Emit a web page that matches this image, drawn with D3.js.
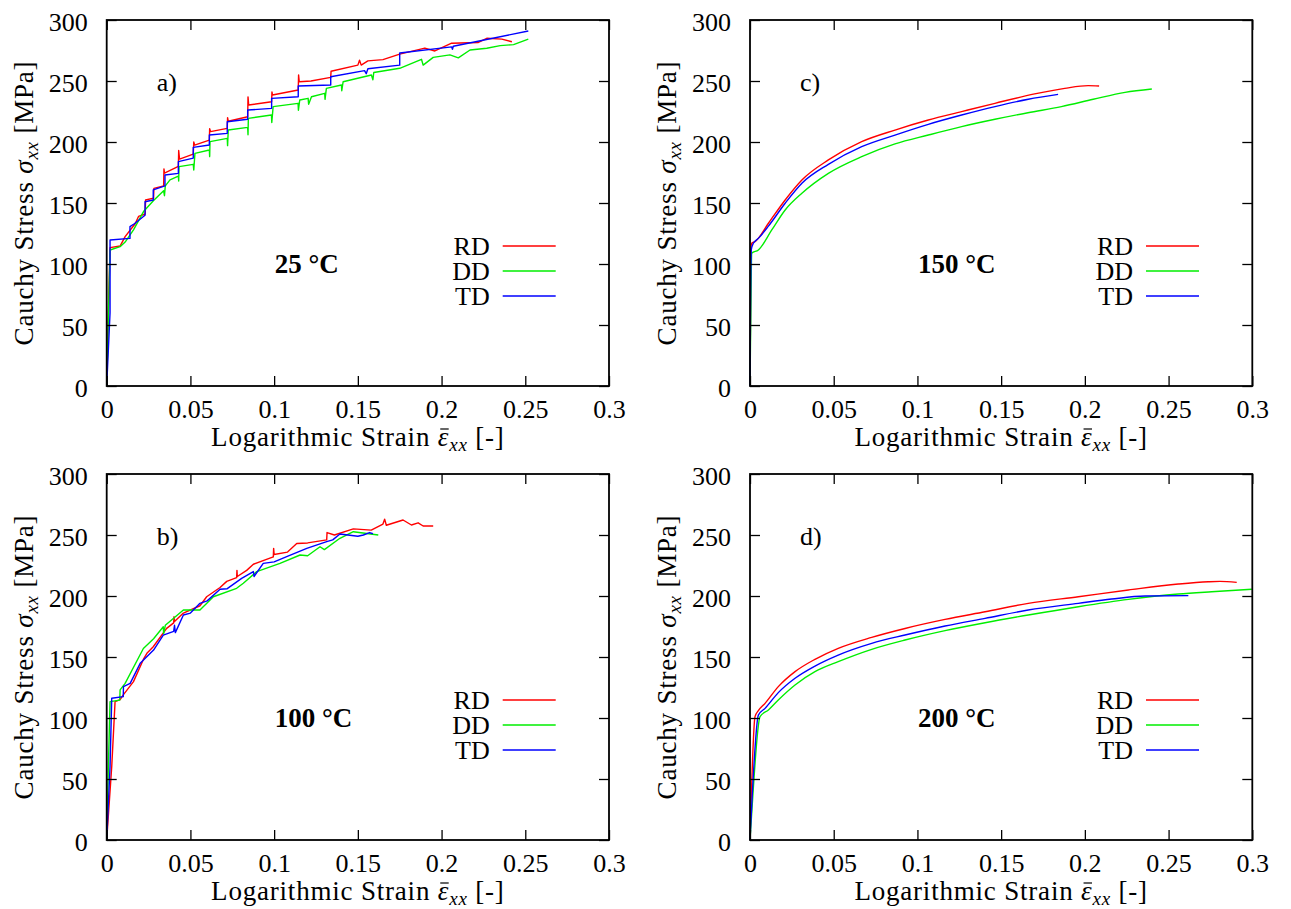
<!DOCTYPE html>
<html><head><meta charset="utf-8">
<script src="https://cdn.jsdelivr.net/npm/d3@7"></script>
<style>body{margin:0;background:#fff} svg text{font-family:"Liberation Serif",serif !important;fill:#000}</style>
</head><body><svg id="chart" width="1291" height="909" font-family="Liberation Serif, serif"></svg>
<script>
// ---------- data ----------
const xTicks = [0, 0.05, 0.1, 0.15, 0.2, 0.25, 0.3];
const yTicks = [0, 50, 100, 150, 200, 250, 300];
const xTickLabels = ["0", "0.05", "0.1", "0.15", "0.2", "0.25", "0.3"];
const yTickLabels = ["0", "50", "100", "150", "200", "250", "300"];
const seriesNames = ["RD", "DD", "TD"];
const panelLetters = ["a)", "b)", "c)", "d)"];
const panelTemps = ["25 °C", "100 °C", "150 °C", "200 °C"];

// 25 °C  [strain, stress MPa]
const rd25 = [[0,0],[0.001,60],[0.002,113.4],[0.008,114.7],[0.011,122.4],[0.017,133],[0.019,139],[0.023,141],[0.0232,152.5],[0.028,154],[0.0282,162],[0.034,164],[0.0342,178],[0.0345,174.5],[0.0428,180],[0.043,193],[0.0435,186],[0.0517,190],[0.052,200],[0.0525,197.5],[0.0613,201.6],[0.0615,211],[0.062,208.5],[0.072,211.2],[0.0722,220],[0.0726,217],[0.0842,220.7],[0.0844,237],[0.0848,230.3],[0.0985,233],[0.0987,241],[0.099,238.5],[0.1144,242.6],[0.1146,255],[0.115,249.4],[0.122,250],[0.1338,253],[0.134,258],[0.15,263],[0.151,267],[0.152,263],[0.156,266.5],[0.165,267.5],[0.175,272],[0.19,277],[0.196,274.6],[0.206,281],[0.222,281.6],[0.227,285],[0.236,284.3],[0.242,282.2]];
const dd25 = [[0,0],[0.001,55],[0.002,111.5],[0.008,114.2],[0.011,118],[0.016,128],[0.022,143],[0.028,152],[0.034,160],[0.0345,156],[0.035,164],[0.0378,168.9],[0.0428,172],[0.043,168],[0.0432,179.8],[0.0517,181.7],[0.052,177],[0.0527,190.7],[0.0613,193.4],[0.0615,188],[0.0617,200.3],[0.072,203],[0.0722,197],[0.0726,209.8],[0.0842,212],[0.0844,206],[0.0846,219.4],[0.0984,222.1],[0.0986,216],[0.0994,229],[0.1143,231.7],[0.1145,226],[0.1153,234.4],[0.1203,235.8],[0.1206,231],[0.1223,237.1],[0.1302,239.9],[0.1304,235],[0.1312,244],[0.1402,246.7],[0.1404,242],[0.1412,249.4],[0.1581,254.9],[0.159,251],[0.1595,257],[0.175,260.4],[0.188,267.8],[0.189,263],[0.195,269.4],[0.205,271.4],[0.21,269],[0.217,275.4],[0.227,276.8],[0.235,279],[0.243,279.8],[0.2518,284.4]];
const td25 = [[0,0],[0.002,60],[0.002,119.7],[0.0139,121],[0.0139,130.6],[0.0165,133],[0.0229,140],[0.0229,151],[0.0278,152.5],[0.0278,160.7],[0.0348,164],[0.0348,172.9],[0.0428,174.3],[0.0428,183.9],[0.0517,186.8],[0.0517,195.6],[0.0613,197.5],[0.0613,205.7],[0.072,207.1],[0.072,216.6],[0.0842,218.6],[0.0842,226.2],[0.0985,227.6],[0.0985,235.8],[0.1144,237.1],[0.1144,245.9],[0.1338,246.7],[0.1338,253.5],[0.154,258.5],[0.155,256],[0.156,260],[0.175,263],[0.175,273],[0.206,278],[0.2065,276],[0.207,278.5],[0.2518,291]];

// 100 °C
const rd100 = [[0,0],[0.003,60],[0.005,113.4],[0.008,115],[0.0099,118.9],[0.016,129.8],[0.0219,148],[0.024,153],[0.0278,158.4],[0.0358,173.5],[0.04,178],[0.0402,183],[0.0405,179],[0.0458,186],[0.0557,192],[0.0597,199.4],[0.0677,207],[0.0717,212],[0.0776,215],[0.0778,221],[0.078,216],[0.0836,221],[0.0876,226],[0.0995,232],[0.0997,239],[0.1,234],[0.108,236],[0.1135,243],[0.12,243.5],[0.1314,246],[0.1316,252],[0.136,250],[0.1473,255],[0.158,254],[0.165,259],[0.166,263],[0.167,258],[0.177,262.3],[0.182,258.2],[0.186,260],[0.189,257.4],[0.195,257.4]];
const dd100 = [[0,0],[0.001,60],[0.002,113.4],[0.0078,114.7],[0.008,123],[0.011,128.4],[0.0219,157],[0.028,165],[0.0338,174.8],[0.034,169],[0.035,176],[0.0458,188.5],[0.0557,188.5],[0.0637,199.4],[0.0776,206.3],[0.0816,210.4],[0.0896,220],[0.1035,226.7],[0.1155,233.6],[0.12,233],[0.1274,240.4],[0.13,238],[0.1393,247.3],[0.1473,252.7],[0.1622,250]];
const td100 = [[0,0],[0.002,60],[0.003,116.2],[0.0099,117.5],[0.01,125.7],[0.014,128.4],[0.02,144.8],[0.028,155.7],[0.0338,168],[0.04,171],[0.0405,176],[0.041,170],[0.0458,184.4],[0.05,186],[0.0557,194],[0.06,196],[0.0677,205.5],[0.072,206],[0.0806,214.4],[0.0876,220],[0.088,216],[0.0935,226.7],[0.1,228],[0.1075,232.2],[0.1195,239.1],[0.1314,244.6],[0.135,246],[0.1393,250.8],[0.15,249],[0.1533,250],[0.157,252],[0.159,251]];

// 150 °C
const rd150 = [[0,0],[0.0003,60],[0.0005,112],[0.001,117],[0.003,118.3],[0.011,133.4],[0.021,152.5],[0.031,168.9],[0.0468,185.3],[0.0667,200.3],[0.0866,209.8],[0.1065,218],[0.1264,224.9],[0.1463,231.7],[0.17,239.4],[0.188,244],[0.202,246.2],[0.2085,245.9]];
const dd150 = [[0,0],[0.0005,60],[0.001,108.8],[0.005,111.5],[0.013,127.9],[0.021,144.3],[0.031,158],[0.0468,174.3],[0.0667,188],[0.0866,198.4],[0.1065,205.7],[0.1264,212.6],[0.1463,218.6],[0.166,224],[0.186,229],[0.205,235],[0.224,240.7],[0.24,243.4]];
const td150 = [[0,0],[0.0003,60],[0.0008,112],[0.002,117],[0.005,121],[0.011,131],[0.021,149.8],[0.031,166.2],[0.0468,181.7],[0.0667,196.2],[0.0866,205.7],[0.1065,214.5],[0.1264,222.1],[0.1463,229],[0.1662,235],[0.184,239]];

// 200 °C
const rd200 = [[0,0],[0.003,101.1],[0.005,106],[0.009,112],[0.0169,125.7],[0.0269,138],[0.0388,148.1],[0.0527,157.1],[0.0727,166.1],[0.0926,173.4],[0.1165,180.8],[0.1404,187.1],[0.1662,194],[0.1961,199.4],[0.226,204.9],[0.2558,209.8],[0.2737,211.7],[0.2807,212],[0.2907,211.2]];
const dd200 = [[0,0],[0.001,21.6],[0.006,101.1],[0.011,106.6],[0.0169,114.8],[0.0269,127.1],[0.0388,138],[0.0527,146.2],[0.0727,156.3],[0.0926,163.9],[0.1165,171.6],[0.1404,178.1],[0.1662,184.4],[0.1961,191.2],[0.226,197.2],[0.2558,201.6],[0.2757,203.5],[0.2997,205.5]];
const td200 = [[0,0],[0.0014,38.5],[0.005,102.4],[0.009,107.9],[0.0169,120.8],[0.0269,132.6],[0.0388,142.6],[0.0527,151.6],[0.0727,161.2],[0.0926,168],[0.1165,175.4],[0.1404,181.7],[0.1662,188.5],[0.1961,194],[0.216,197.5],[0.236,200],[0.2618,200.3]];

// ---------- layout / style ----------
const FONT = '"Liberation Serif", serif';
const colors = ["#ff0000", "#00ee00", "#0000ff"];
const W = 502.3, H = 366;
const panels = [
  {left:106.7, top:20,  series:[rd25, dd25, td25], smooth:false},
  {left:106.7, top:474, series:[rd100, dd100, td100], smooth:false},
  {left:750,   top:20,  series:[rd150, dd150, td150], smooth:true},
  {left:750,   top:474, series:[rd200, dd200, td200], smooth:true}
];
const FS = 26;
const svg = d3.select("#chart");

panels.forEach((p, i) => {
  const g = svg.append("g").attr("transform", `translate(${p.left},${p.top})`);
  const x = d3.scaleLinear().domain([0, 0.3]).range([0, W]);
  const y = d3.scaleLinear().domain([0, 300]).range([H, 0]);

  // series
  const line = d3.line().x(d => x(d[0])).y(d => y(d[1]))
    .curve(p.smooth ? d3.curveMonotoneX : d3.curveLinear);
  p.series.forEach((s, k) => {
    g.append("path").datum(s).attr("d", line)
      .attr("fill", "none").attr("stroke", colors[k])
      .attr("stroke-width", 1.4).attr("stroke-linejoin", "round");
  });

  // axes with inward ticks (mirrored)
  const axB = d3.axisBottom(x).tickValues(xTicks).tickSizeInner(-10).tickSizeOuter(0).tickPadding(14)
    .tickFormat((d, j) => xTickLabels[j]);
  const axT = d3.axisTop(x).tickValues(xTicks).tickSizeInner(-10).tickSizeOuter(0).tickFormat("");
  const axL = d3.axisLeft(y).tickValues(yTicks).tickSizeInner(-10).tickSizeOuter(0).tickPadding(19)
    .tickFormat((d, j) => yTickLabels[j]);
  const axR = d3.axisRight(y).tickValues(yTicks).tickSizeInner(-10).tickSizeOuter(0).tickFormat("");
  const gb = g.append("g").attr("transform", `translate(0,${H})`).call(axB);
  const gt = g.append("g").call(axT);
  const gl = g.append("g").call(axL);
  const gr = g.append("g").attr("transform", `translate(${W},0)`).call(axR);
  [gb, gt, gl, gr].forEach(a => {
    a.attr("font-family", FONT).attr("font-size", FS);
    a.select(".domain").remove();
    a.selectAll(".tick line").attr("stroke", "#000").attr("stroke-width", 1.3);
    a.selectAll("text").style("font-family", FONT).attr("font-size", FS).attr("fill", "#000");
  });
  gb.selectAll(".tick text").attr("dy", "0.71em");
  gl.selectAll(".tick text").attr("dy", "0.40em");

  // frame
  g.append("rect").attr("x", 0).attr("y", 0).attr("width", W).attr("height", H)
    .attr("fill", "none").attr("stroke", "#000").attr("stroke-width", 1.8);

  // panel letter
  g.append("text").attr("x", 50).attr("y", 71).attr("font-size", FS).style("font-family", FONT).text(panelLetters[i]);
  // temperature
  g.append("text").attr("x", 168).attr("y", 253).attr("font-size", 27).attr("font-weight", "bold")
    .style("font-family", FONT).text(panelTemps[i]);

  // legend
  seriesNames.forEach((n, k) => {
    const ly = 226 + k * 25;
    g.append("text").attr("x", 383).attr("y", ly + 9).attr("text-anchor", "end").attr("font-size", FS)
      .style("font-family", FONT).text(n);
    g.append("line").attr("x1", 396).attr("x2", 449).attr("y1", ly).attr("y2", ly)
      .attr("stroke", colors[k]).attr("stroke-width", 1.4);
  });

  // x axis label
  const xl = g.append("text").attr("x", W / 2).attr("y", H + 60).attr("text-anchor", "middle")
    .attr("font-size", 27).style("font-family", FONT).style("letter-spacing", "0.8px");
  xl.append("tspan").text("Logarithmic Strain ");
  xl.append("tspan").attr("font-style", "italic").text("ε");
  xl.append("tspan").attr("font-style", "italic").attr("font-size", 19).attr("dy", 5).text("xx");
  xl.append("tspan").attr("dy", -5).text(" [-]");
  // macron over epsilon
  const ext = xl.node().getExtentOfChar(19);
  g.append("line").attr("x1", ext.x + 2.5).attr("x2", ext.x + ext.width - 0.5)
    .attr("y1", H + 43).attr("y2", H + 43).attr("stroke", "#000").attr("stroke-width", 1.2);

  // y axis label
  const yl = g.append("text").attr("transform", `translate(-74,${H / 2}) rotate(-90)`)
    .attr("text-anchor", "middle").attr("font-size", 27).style("font-family", FONT)
    .style("letter-spacing", "0.8px");
  yl.append("tspan").text("Cauchy Stress ");
  yl.append("tspan").attr("font-style", "italic").text("σ");
  yl.append("tspan").attr("font-style", "italic").attr("font-size", 19).attr("dy", 5).text("xx");
  yl.append("tspan").attr("dy", -5).text(" [MPa]");
});
</script>
</body></html>
